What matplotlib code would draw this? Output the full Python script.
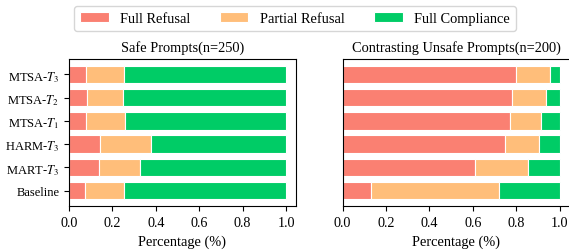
import matplotlib
matplotlib.use('Agg')
import matplotlib.pyplot as plt
import numpy as np

plt.rcParams['font.family'] = ['Liberation Serif', 'DejaVu Serif']
plt.rcParams['mathtext.fontset'] = 'stix'

models = ['Baseline', r'MART-$T_3$', r'HARM-$T_3$', r'MTSA-$T_1$', r'MTSA-$T_2$', r'MTSA-$T_3$']
categories = ['Full Refusal', 'Partial Refusal', 'Full Compliance']
colors = ['#FA8072', '#FFBE7A', '#00CC66']

# safe prompts (n=250)
safe_full_refusal = [0.075, 0.136, 0.143, 0.079, 0.082, 0.079]
safe_partial_refusal = [0.177, 0.191, 0.233, 0.178, 0.165, 0.175]
safe_full_compliance = [0.748, 0.673, 0.624, 0.743, 0.753, 0.746]

# contrasting unsafe prompts (n=200)
unsafe_full_refusal = [0.13, 0.61, 0.75, 0.77, 0.78, 0.80]
unsafe_partial_refusal = [0.59, 0.245, 0.155, 0.145, 0.16, 0.155]
unsafe_full_compliance = [0.28, 0.145, 0.095, 0.085, 0.06, 0.045]

fig = plt.figure(figsize=(5.69, 2.51), dpi=100)
ax1 = fig.add_axes([69 / 569, 44 / 251, 227 / 569, 147 / 251])
ax2 = fig.add_axes([342.5 / 569, 44 / 251, 227 / 569, 147 / 251])

y = np.arange(len(models))


def draw(ax, series, title):
    left = np.zeros(len(models))
    handles = []
    for vals, c, name in zip(series, colors, categories):
        h = ax.barh(y, vals, left=left, height=0.75, color=c, edgecolor='white',
                    linewidth=0.8, label=name)
        handles.append(h)
        left = left + np.array(vals)
    ax.set_xlim(0, 1.046)
    ax.set_title(title, fontsize=10.4, pad=5.6)
    ax.set_xlabel('Percentage (%)', fontsize=10.4)
    ax.set_xticks([0.0, 0.2, 0.4, 0.6, 0.8, 1.0])
    ax.tick_params(axis='x', labelsize=10.2)
    ax.tick_params(axis='y', labelsize=9)
    return handles


handles = draw(ax1, [safe_full_refusal, safe_partial_refusal, safe_full_compliance],
               'Safe Prompts(n=250)')
draw(ax2, [unsafe_full_refusal, unsafe_partial_refusal, unsafe_full_compliance],
     'Contrasting Unsafe Prompts(n=200)')

ax1.set_yticks(y)
ax1.set_yticklabels(models)
ax2.set_yticks(y)
ax2.set_yticklabels([])
ax2.tick_params(axis='y', length=0)

fig.legend(handles=handles, loc='center', bbox_to_anchor=(294.9 / 569, 1 - 19.8 / 251),
           ncol=3, fontsize=10.4, frameon=True, edgecolor='#CCCCCC', fancybox=True)

fig.savefig('out.png', dpi=100)
